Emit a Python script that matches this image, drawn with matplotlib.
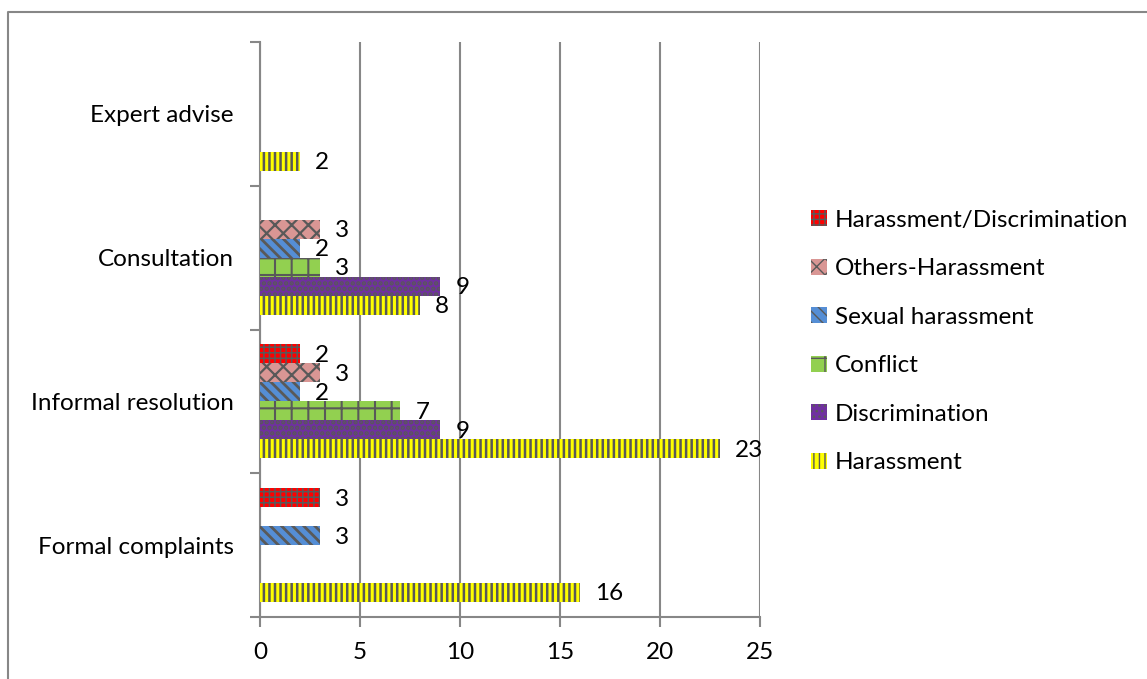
import numpy as np
import matplotlib
matplotlib.use("Agg")
import matplotlib.pyplot as plt
from matplotlib.lines import Line2D

plt.rcParams['font.family'] = ['Lato', 'DejaVu Sans']

# categories bottom to top
categories = ["Formal complaints", "Informal resolution", "Consultation", "Expert advise"]
series_names = ["Harassment", "Discrimination", "Conflict", "Sexual harassment",
                "Others-Harassment", "Harassment/Discrimination"]
harassment = [16, 23, 8, 2]
discrimination = [0, 9, 9, 0]
conflict = [0, 7, 3, 0]
sexual_harassment = [3, 2, 2, 0]
others_harassment = [0, 3, 3, 0]
harassment_discrimination = [3, 2, 0, 0]
x_ticks = [0, 5, 10, 15, 20, 25]

series = [harassment, discrimination, conflict, sexual_harassment,
          others_harassment, harassment_discrimination]
# fill colour, hatch, hatch width (pt)
styles = [("#FFFF00", "|||", 1.8),
          ("#7030A0", "...", 2.2),
          ("#92D050", "+", 1.5),
          ("#558ED5", "\\\\\\", 2.0),
          ("#D99694", "xx", 1.6),
          ("#FF0000", "+++", 1.1)]
hatch_gray = "#595959"
axis_gray = "#878787"
fs = 17.5

fig = plt.figure(figsize=(11.47, 6.79), dpi=100)
ax = fig.add_axes([260 / 1147, 62 / 679, 500 / 1147, 575 / 679])

y = np.arange(len(categories))
h = 0.132
bars = []
for k, (vals, (fc, hatch, hlw)) in enumerate(zip(series, styles)):
    with plt.rc_context({'hatch.linewidth': hlw, 'hatch.color': hatch_gray}):
        b = ax.barh(y + (k - 2.5) * h, vals, height=h, color=fc, edgecolor=hatch_gray,
                    linewidth=0, hatch=hatch, label=series_names[k], zorder=3)
    bars.append(b)
    for yi, v in zip(y + (k - 2.5) * h, vals):
        if v:
            ax.annotate(str(v), (v, yi), xytext=(11, -1), textcoords="offset points",
                        ha="left", va="center", fontsize=fs, color="black")

ax.set_xlim(0, 25)
ax.set_ylim(-0.5, 3.5)
ax.set_xticks(x_ticks)
ax.tick_params(axis="x", length=7, width=1.5, color=axis_gray, labelsize=fs, pad=11)
ax.set_yticks(np.arange(-0.5, 3.6, 1))
ax.set_yticklabels([])
ax.set_yticks(y, minor=True)
ax.set_yticklabels(categories, minor=True, fontsize=fs)
ax.tick_params(axis="y", which="major", length=7, width=1.5, color=axis_gray)
ax.tick_params(axis="y", which="minor", length=0, pad=19)
ax.grid(axis="x", color=axis_gray, linewidth=1.5, zorder=0)
for s in ["top", "right"]:
    ax.spines[s].set_visible(False)
for s in ["left", "bottom"]:
    ax.spines[s].set_color(axis_gray)
    ax.spines[s].set_linewidth(1.5)

handles = [b for b in bars][::-1]
fig.legend(handles, series_names[::-1], loc="upper left", bbox_to_anchor=(789 / 1147, 1 - 188 / 679),
           frameon=False, fontsize=fs, handlelength=0.65, handleheight=0.65,
           handletextpad=0.35, labelspacing=1.13)

# outer chart border
fig.add_artist(Line2D([8 / 1147, 8 / 1147, 1], [0, 1 - 12 / 679, 1 - 12 / 679],
                      transform=fig.transFigure, color=axis_gray, linewidth=1.5))

fig.savefig("out.png", dpi=100)
